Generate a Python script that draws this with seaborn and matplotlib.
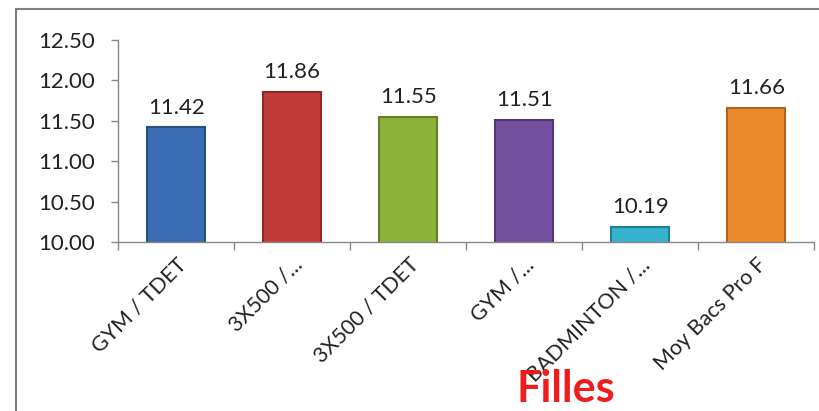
import matplotlib
matplotlib.use("Agg")
import matplotlib.pyplot as plt
import seaborn as sns
import pandas as pd
from matplotlib.patches import Rectangle
from matplotlib.transforms import ScaledTranslation

categories = ["GYM / TDET", "3X500 /...", "3X500 / TDET", "GYM /...", "BADMINTON /...", "Moy Bacs Pro F"]
values = [11.42, 11.86, 11.55, 11.51, 10.19, 11.66]
colors = ["#3a6db4", "#c23b38", "#8db23a", "#7550a0", "#38b2cf", "#ea8a2c"]
edges = ["#274f86", "#8e2826", "#667f27", "#533773", "#237f95", "#b0621b"]
yticks = [10.00, 10.50, 11.00, 11.50, 12.00, 12.50]
title = "Filles"

sns.set_theme(style="white")
plt.rcParams['font.family'] = ['Lato', 'DejaVu Sans']

df = pd.DataFrame({"cat": categories, "val": values})
fig = plt.figure(figsize=(8.2, 4.11), dpi=100)
ax = fig.add_axes([0.144, 0.411, 0.849, 0.492])
sns.barplot(data=df, x="cat", y="val", hue="cat", palette=colors, legend=False,
            width=0.5, ax=ax, saturation=1)
for p, ec in zip(ax.patches, edges):
    p.set_edgecolor(ec)
    p.set_linewidth(1.5)
for i, v in enumerate(values):
    ax.text(i, v + 0.12, f"{v:.2f}", ha="center", va="bottom", fontsize=16, color="#222222")

ax.set_ylim(10.0, 12.5)
ax.set_xlim(-0.5, 5.5)
ax.set_yticks(yticks)
ax.set_yticklabels([f"{t:.2f}" for t in yticks], fontsize=16, color="#222222")
ax.set_xticks(range(len(categories)))
ax.set_xticklabels(categories, rotation=45, ha="right", rotation_mode="anchor", fontsize=15.5, color="#222222")
off = ScaledTranslation(0.08, 0, fig.dpi_scale_trans)
for lbl in ax.get_xticklabels():
    lbl.set_transform(lbl.get_transform() + off)
ax.tick_params(axis="x", which="major", length=0, pad=9)
ax.set_xticks([i - 0.5 for i in range(len(categories) + 1)], minor=True)
ax.tick_params(axis="x", which="minor", length=6, color="#888888", width=1, direction="out", bottom=True)
ax.tick_params(axis="y", length=5, color="#888888", width=1, direction="out", left=True, pad=12)
for s in ["top", "right"]:
    ax.spines[s].set_visible(False)
for s in ["left", "bottom"]:
    ax.spines[s].set_color("#888888")
    ax.spines[s].set_linewidth(1)
ax.set_xlabel("")
ax.set_ylabel("")

fig.text(0.69, 0.005, title, color="#ee1c1c", fontsize=31, fontweight="bold",
         ha="center", va="bottom")
fig.patches.append(Rectangle((0.019, -0.1), 1.2, 1.077, transform=fig.transFigure,
                             fill=False, edgecolor="#7f7f7f", linewidth=1.5))
fig.savefig("out.png", dpi=100)
